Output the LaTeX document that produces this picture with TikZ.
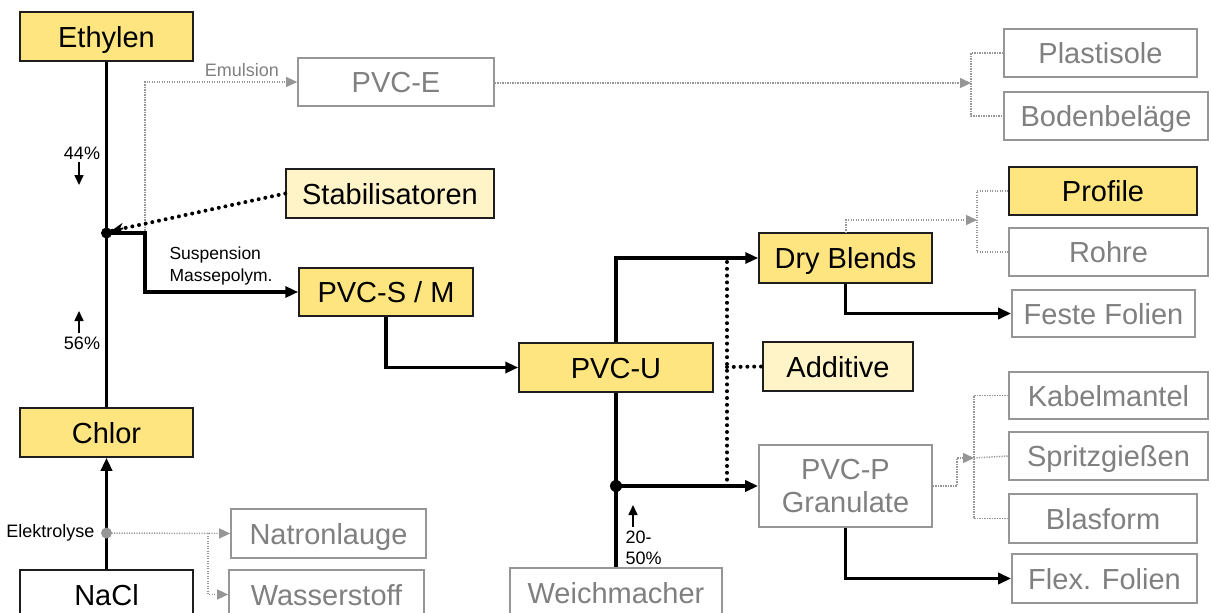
\documentclass[tikz,border=0pt]{standalone}
\usepackage{fontspec}
\setmainfont{Liberation Sans}
\usetikzlibrary{arrows.meta,calc}
\definecolor{ybox}{RGB}{255,229,128}
\definecolor{lybox}{RGB}{255,243,200}
\definecolor{gline}{RGB}{150,150,150}
\definecolor{gtext}{RGB}{128,128,128}
\definecolor{bdark}{RGB}{30,30,30}
\tikzset{
  big/.style={font=\fontsize{29}{33}\selectfont},
  one/.style={text height=21pt, text depth=0pt},
  small/.style={font=\fontsize{18}{22}\selectfont},
  ybx/.style={big, one, draw=bdark, line width=1.5pt, fill=ybox, inner sep=0pt},
  lybx/.style={big, one, draw=bdark, line width=1.5pt, fill=lybox, inner sep=0pt},
  wbx/.style={big, one, draw=bdark, line width=1.5pt, fill=white, inner sep=0pt},
  gbxm/.style={big, draw=gline, line width=1.7pt, fill=white, text=gtext, inner sep=0pt},
  gbx/.style={gbxm, one},
  thickline/.style={line width=3.6pt, black},
  thickarrow/.style={line width=3.6pt, black, -{Triangle[length=13pt,width=11pt]}},
  gdot/.style={gline, line width=1.5pt, dash pattern=on 1.2pt off 1.3pt},
  gdotarrow/.style={gdot, -{Triangle[length=11pt,width=10pt,fill=gline,sep=0pt]}},
  bdotted/.style={line width=4pt, black, line cap=round, dash pattern=on 0pt off 6.8pt},
  pctarrow/.style={line width=1.6pt, black, -{Triangle[length=10pt,width=9pt]}},
}
\begin{document}
\begin{tikzpicture}[x=1pt,y=-1pt]
\useasboundingbox (0,0) rectangle (1211,613);
% main nodes
\node[ybx, minimum width=173, minimum height=49] (eth) at (106.5,36.5) {Ethylen};
\node[ybx, minimum width=173, minimum height=49] (chl) at (106.5,432.5) {Chlor};
\node[wbx, minimum width=173, minimum height=49] (nacl) at (106.5,594.5) {NaCl};
\node[gbx, minimum width=196, minimum height=48] (pvce) at (396,82) {PVC-E};
\node[lybx, minimum width=208, minimum height=49] (stab) at (390,193.5) {Stabilisatoren};
\node[ybx, minimum width=174, minimum height=48] (pvcs) at (386,292) {PVC-S / M};
\node[ybx, minimum width=194, minimum height=49] (pvcu) at (616,367.5) {PVC-U};
\node[ybx, minimum width=173, minimum height=50] (dry) at (845.5,258) {Dry Blends};
\node[lybx, minimum width=150, minimum height=49] (add) at (838,366.5) {Additive};
\node[gbxm, minimum width=173, minimum height=82, align=center] (pvcp) at (845.5,486) {PVC-P\\Granulate};
\node[gbx, minimum width=212, minimum height=49] (weich) at (616,592.5) {Weichmacher};
\node[gbx, minimum width=195, minimum height=49] (natron) at (328.5,533.5) {Natronlauge};
\node[gbx, minimum width=195, minimum height=49] (wasser) at (326.5,594.5) {Wasserstoff};
\node[gbx, minimum width=193, minimum height=48] (plast) at (1100.5,53) {Plastisole};
\node[gbx, minimum width=204, minimum height=48] (boden) at (1106,116) {Bodenbeläge};
\node[ybx, minimum width=188, minimum height=48] (prof) at (1103,191) {Profile};
\node[gbx, minimum width=199, minimum height=48] (rohr) at (1108.5,252) {Rohre};
\node[gbx, minimum width=183, minimum height=47] (feste) at (1103.5,313.5) {Feste Folien};
\node[gbx, minimum width=199, minimum height=47] (kabel) at (1108.5,395.5) {Kabelmantel};
\node[gbx, minimum width=199, minimum height=48] (spritz) at (1108.5,456) {Spritzgießen};
\node[gbx, minimum width=188, minimum height=49] (blas) at (1103,518.5) {Blasform};
\node[gbx, minimum width=185, minimum height=49] (flex) at (1104.5,578.5) {Flex. Folien};

% coordinates
\coordinate (J) at (106.5,233);
\coordinate (em) at (145,233);
\coordinate (stabtip) at (111,231);
\coordinate (K) at (616,486);
\coordinate (E) at (106.5,533);
\coordinate (eb) at (208,533);
\coordinate (b1) at (971,83);
\coordinate (b2) at (977,220);
\coordinate (b3) at (974,458);
\coordinate (dtop) at (727,262);
\coordinate (dbot) at (727,484);
\coordinate (dmid) at (727,367);

% grey dotted connectors
\draw[gdotarrow] (em) |- (pvce.west);
\draw[gdotarrow] (pvce.east |- b1) -- (b1);
\draw[gdot] (plast.west) -| (b1) |- (boden.west);
\draw[gdotarrow] (846,233) |- (b2);
\draw[gdot] (prof.west) -| (b2) |- (rohr.west);
\draw[gdotarrow] (pvcp.east) -- (957,486) |- (b3);
\draw[gdot] (kabel.west) -| (b3) |- (blas.west);
\draw[gdot] (b3) -- (spritz.west);
\draw[gdotarrow] (E) -- (natron.west);
\draw[gdotarrow] (eb) |- (wasser.west);

% thick lines
\draw[thickline] (eth.south) -- (J) -- (chl.north);
\draw[thickarrow] (nacl.north) -- (chl.south);
\draw[thickarrow] (J) -- (em) |- (pvcs.west);
\draw[thickarrow] (pvcs.south) |- (pvcu.west);
\draw[thickarrow] (pvcu.north) |- (dry.west);
\draw[thickline] (pvcu.south) -- (K) -- (weich.north);
\draw[thickarrow] (K) -- (pvcp.west);
\draw[thickarrow] (dry.south) |- (feste.west);
\draw[thickarrow] (pvcp.south) |- (flex.west);

% black dotted
\draw[bdotted] (dtop) -- (dbot);
\draw[bdotted] (dmid) -- (add.west);
\draw[bdotted] (stab.west) -- (stabtip);
\draw[black, line width=1.8pt, -{Stealth[length=13pt,width=11pt]}] ($(stab.west)!0.93!(stabtip)$) -- (stabtip);

% dots
\fill[black] (J) circle (5.5);
\fill[black] (K) circle (6);
\fill[gline] (E) circle (5.5);

% labels
\node[small, text=gtext] (emul) at (242,70) {Emulsion};
\node[small, anchor=west, align=left, font=\fontsize{17.5}{22}\selectfont] (susp) at (166,266) {Suspension\\Massepolym.};
\node[small, anchor=east] (elek) at (98,533) {Elektrolyse};
\node[small] (p44) at (82,153) {44\%};
\node[small] (p56) at (82,343) {56\%};
\node[small, anchor=west, align=left, font=\fontsize{18}{21}\selectfont] (p20) at (622,547.5) {20-\\50\%};
\draw[pctarrow] (79,162) -- (79,185);
\draw[pctarrow] (79,333) -- (79,311);
\draw[pctarrow] (633,527) -- (633,505);
\end{tikzpicture}
\end{document}
